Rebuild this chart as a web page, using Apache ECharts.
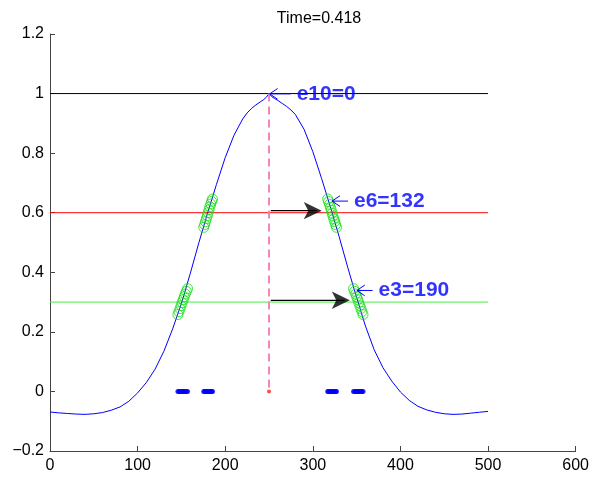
<!DOCTYPE html>
<html>
<head>
<meta charset="utf-8">
<script src="https://cdn.jsdelivr.net/npm/echarts@6/dist/echarts.min.js"></script>
<style>html,body{margin:0;padding:0;background:#fff}#c{width:592px;height:478px}</style>
</head>
<body>
<div id="c"></div>
<script>
// ---- data ----
const titleText = 'Time=0.418';
const curveX = [0,10,20,30,40,50,60,70,80,90,100,110,120,130,140,150,160,170,180,190,200,210,220,225,230,235,240,244,247,250,253,256,260,265,270,275,280,290,300,310,320,330,340,350,360,370,380,390,400,410,420,430,440,450,460,470,480,490,500];
const curveY = [-0.069,-0.072,-0.074,-0.076,-0.077,-0.075,-0.071,-0.063,-0.052,-0.033,-0.005,0.030,0.075,0.135,0.210,0.295,0.395,0.500,0.600,0.695,0.785,0.860,0.915,0.935,0.950,0.962,0.972,0.980,0.988,1.000,0.990,0.984,0.977,0.967,0.957,0.945,0.930,0.880,0.805,0.715,0.620,0.520,0.415,0.315,0.220,0.140,0.080,0.035,-0.002,-0.030,-0.050,-0.062,-0.070,-0.075,-0.077,-0.076,-0.073,-0.070,-0.067];
const levelY = [1, 0.6, 0.3];
const levelX = [0, 500];
const peakX = 250;
const peakY = 1;
// circle clusters (x, y on the curve)
const circX = [146,147.2,148.4,149.6,150.8,152,153.2,154.4,155.6,157,
               175.5,176.5,177.5,178.5,179.5,180.5,181.5,182.5,183.5,184.5,185.5,
               317,318,319,320,321,322,323,324,325,326,327,
               346.5,347.7,348.9,350.1,351.3,352.5,353.7,354.9,356.1,357.3];
const circY = [0.258,0.268,0.278,0.288,0.298,0.308,0.318,0.327,0.336,0.345,
               0.551,0.560,0.570,0.580,0.590,0.600,0.610,0.620,0.629,0.638,0.646,
               0.646,0.637,0.628,0.618,0.608,0.598,0.589,0.579,0.570,0.560,0.551,
               0.345,0.336,0.327,0.318,0.308,0.298,0.288,0.278,0.268,0.258];
// quiver arrows
const arrowStartX = [252, 252];
const arrowEndX = [312.5, 344.5];
const arrowY = [0.607, 0.306];
// text annotations
const annText = ['e10=0', 'e6=132', 'e3=190'];
const annTipX = [250.8, 322, 350.3];
const annEndX = [274.7, 340.1, 368.2];
const annY = [0.999, 0.639, 0.339];
const xTicks = {min: 0, max: 600, step: 100};
const yTicks = {min: -0.2, max: 1.2, step: 0.2};

// ---- chart ----
const chart = echarts.init(document.getElementById('c'), null, {renderer: 'canvas'});
const font = 'Liberation Sans, Helvetica, Arial, sans-serif';
const levelColors = ['#000000', '#ff0000', '#44ee44'];
const series = [];
levelY.forEach((y, i) => {
  series.push({type: 'line', data: levelX.map(x => [x, y]), showSymbol: false, symbol: 'none',
    lineStyle: {color: levelColors[i], width: 1}, z: 1, silent: true});
});
series.push({type: 'line', data: curveX.map((x, i) => [x, curveY[i]]), symbol: 'none',
  lineStyle: {color: '#0000ff', width: 1}, z: 2});
series.push({type: 'line', data: [[peakX, peakY], [peakX, 0]], symbol: 'none',
  lineStyle: {color: '#f585b8', width: 2, type: [8, 5]}, z: 3});
series.push({type: 'scatter', data: [[peakX, 0]], symbolSize: 4, itemStyle: {color: '#ff2020'}, z: 3});
arrowStartX.forEach((sx, i) => {
  series.push({type: 'line', data: [[sx, arrowY[i]], [arrowEndX[i] - 8, arrowY[i]]], symbol: 'none',
    lineStyle: {color: '#000', width: 1.3}, z: 4});
});
series.push({type: 'scatter', data: arrowEndX.map((x, i) => [x, arrowY[i]]), symbol: 'arrow',
  symbolSize: [13, 18], symbolRotate: -90, symbolOffset: [-2, 0],
  itemStyle: {color: '#000'}, z: 4});
series.push({type: 'scatter', data: circX.map((x, i) => [x, circY[i]]), symbol: 'circle', symbolSize: 10,
  itemStyle: {color: 'rgba(0,0,0,0)', borderColor: '#11dd11', borderWidth: 1}, z: 5});
series.push({type: 'scatter', data: circX.map(x => [x, 0]), symbol: 'circle', symbolSize: 5,
  itemStyle: {color: '#0000ff'}, z: 5});
annText.forEach((t, i) => {
  series.push({type: 'line', data: [[annTipX[i], annY[i]], [annEndX[i], annY[i]]], symbol: 'none',
    lineStyle: {color: '#0000ff', width: 1}, z: 6});
  series.push({type: 'line', data: [[annTipX[i] + 9, annY[i] + 0.018], [annTipX[i], annY[i]], [annTipX[i] + 9, annY[i] - 0.018]],
    symbol: 'none', lineStyle: {color: '#0000ff', width: 1}, z: 6});
  series.push({type: 'scatter', data: [[annEndX[i], annY[i]]], symbolSize: 0, z: 7,
    label: {show: true, position: 'right', distance: 6, formatter: t, color: '#0000ff',
      fontFamily: font, fontWeight: 'bold', fontSize: 21}});
});

chart.setOption({
  animation: false,
  backgroundColor: '#fff',
  title: {text: titleText, left: 314, top: 6, textAlign: 'center',
    textStyle: {fontFamily: font, fontSize: 16, fontWeight: 'normal', color: '#000'}},
  grid: {left: 50, right: 14, top: 34, bottom: 27, containLabel: false},
  xAxis: {type: 'value', min: xTicks.min, max: xTicks.max, interval: xTicks.step,
    axisLine: {onZero: false, lineStyle: {color: '#444', width: 1}},
    axisTick: {inside: true, length: 5, lineStyle: {color: '#444'}},
    splitLine: {show: false},
    axisLabel: {fontFamily: font, fontSize: 16, color: '#000', margin: 7}},
  yAxis: {type: 'value', min: yTicks.min, max: yTicks.max, interval: yTicks.step,
    axisLine: {show: true, onZero: false, lineStyle: {color: '#444', width: 1}},
    axisTick: {show: true, inside: true, length: 5, lineStyle: {color: '#444'}},
    splitLine: {show: false},
    axisLabel: {fontFamily: font, fontSize: 16, color: '#000', margin: 6,
      formatter: v => String(Math.round(v * 10) / 10).replace('-', '\u2212')}},
  series: series
});
</script>
</body>
</html>
